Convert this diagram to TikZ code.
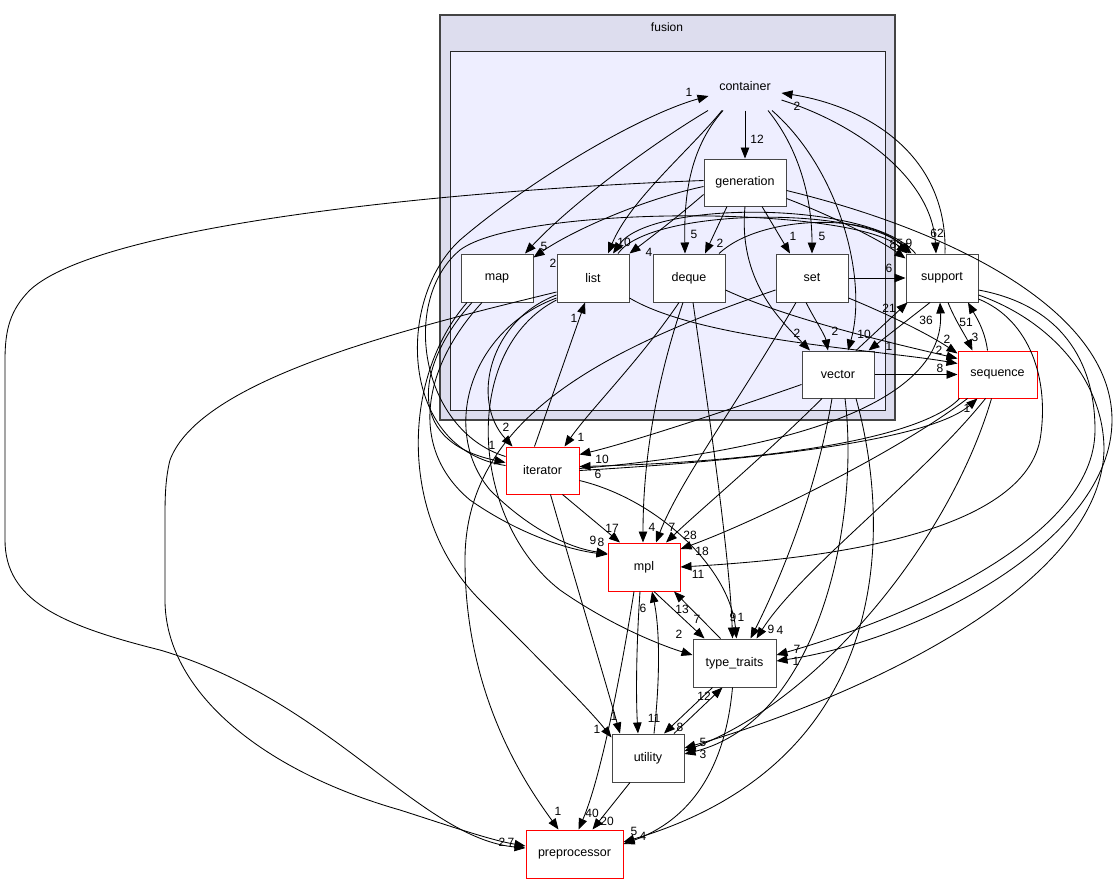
\documentclass[tikz,border=0pt]{standalone}
\usepackage{fontspec}
\setmainfont{Liberation Sans}
\usetikzlibrary{arrows.meta}
\definecolor{outerbg}{RGB}{221,221,238}
\definecolor{innerbg}{RGB}{238,238,255}
\definecolor{frame}{RGB}{68,68,68}
\definecolor{boxline}{RGB}{70,70,70}

\begin{document}
\begin{tikzpicture}
  [x=1pt,y=-1pt,
   dirN/.style={rectangle,draw=boxline,fill=white,line width=1pt,minimum width=72pt,
     minimum height=48pt,inner sep=0pt,font=\fontsize{12.5}{14}\selectfont},
   redN/.style={dirN,draw=red},
   dep/.style={-{Triangle[length=11pt,width=8.5pt]},line width=0.85pt},
   cnt/.style={inner sep=0pt,font=\fontsize{12}{14}\selectfont}]

  \useasboundingbox (0,0) rectangle (1119,884);

  % clusters
  \draw[fill=outerbg,draw=frame,line width=1.3pt] (440,15) rectangle (895,420);
  \node[cnt] (fusionlbl) at (667,27) {fusion};
  \draw[fill=innerbg,draw=black!85,line width=1pt] (450,51) rectangle (885,410);

  % directories
  \node[dirN,draw=none,fill=none] (container) at (745,86) {container};
  \node[dirN,minimum width=82pt,minimum height=47pt] (generation) at (745,182.5) {generation};
  \node[dirN] (map) at (497,278) {map};
  \node[dirN] (list) at (593,278) {list};
  \node[dirN] (deque) at (689,278) {deque};
  \node[dirN] (set) at (812,278) {set};
  \node[dirN] (support) at (942,278) {support};
  \node[dirN,minimum height=47pt] (vector) at (838,374.5) {vector};
  \node[redN,minimum width=79pt,minimum height=47pt] (sequence) at (997.5,374.5) {sequence};
  \node[redN,minimum width=73pt,minimum height=47pt] (iterator) at (542.5,470.5) {iterator};
  \node[redN] (mpl) at (644,567) {mpl};
  \node[dirN,minimum width=83pt] (type_traits) at (734.5,663) {type\_traits};
  \node[dirN] (utility) at (648,758) {utility};
  \node[redN,minimum width=97pt] (preprocessor) at (574.5,854) {preprocessor};

  % container
  \draw[dep] (container.south) -- (generation.north) node[cnt] at (757,139) {12};
  \draw[dep] ([xshift=-37pt]container.south) .. controls (650,145) and (570,205) .. ([xshift=28pt]map.north) node[cnt] at (544,246) {5};
  \draw[dep] ([xshift=-23pt]container.south) .. controls (690,150) and (630,200) .. ([xshift=15pt]list.north) node[cnt] at (624,242) {10};
  \draw[dep] ([xshift=-22pt]container.south) .. controls (688,150) and (684,200) .. ([xshift=-4pt]deque.north) node[cnt] at (694,234) {5};
  \draw[dep] ([xshift=23pt]container.south) .. controls (800,150) and (812,200) .. (set.north) node[cnt] at (822,236) {5};
  \draw[dep] ([xshift=27pt]container.south) .. controls (840,170) and (868,280) .. ([xshift=10pt]vector.north) node[cnt] at (864,334) {10};
  \draw[dep] ([yshift=-14pt]container.east) .. controls (860,125) and (932,180) .. ([xshift=-6pt]support.north) node[cnt] at (937,233) {62};
  \draw[dep] ([xshift=3pt]support.north) .. controls (948,150) and (860,105) .. ([yshift=-7pt]container.east) node[cnt] at (797,106) {2};
  \draw[dep] ([yshift=5pt]iterator.west) .. controls (400,450) and (395,300) .. (460,240) .. controls (530,180) and (640,115) .. ([yshift=-10pt]container.west) node[cnt] at (689,92) {1};

  % generation
  \draw[dep] ([yshift=-4pt]generation.west) .. controls (640,200) and (570,232) .. ([yshift=-4pt]map.north east) node[cnt] at (553,263) {2};
  \draw[dep] ([yshift=-12pt]generation.west) .. controls (680,215) and (650,238) .. (list.north east) node[cnt] at (649,252) {4};
  \draw[dep] ([xshift=-18pt]generation.south) -- ([xshift=16pt]deque.north) node[cnt] at (720,243) {2};
  \draw[dep] ([xshift=17pt]generation.south) -- ([xshift=-22pt]set.north) node[cnt] at (793,236) {1};
  \draw[dep] (generation.south) .. controls (738,280) and (780,320) .. ([xshift=-28pt]vector.north) node[cnt] at (797,333) {2};
  \draw[dep] ([yshift=-16pt]generation.east) .. controls (830,215) and (880,240) .. ([yshift=-5pt]support.north west) node[cnt] at (893,244) {8};
  \draw[dep] ([yshift=2pt]generation.west) .. controls (450,190) and (100,225) .. (30,290) .. controls (10,310) and (5,330) .. (5,360) -- (5,540) .. controls (5,600) and (60,625) .. (160,650) .. controls (330,700) and (420,838) .. ([yshift=6pt]preprocessor.west) node[cnt] at (502,842) {2};
  \draw[dep] ([yshift=-8pt]generation.east) .. controls (950,230) and (1112,310) .. (1112,420) .. controls (1112,540) and (920,640) .. ([yshift=2pt]type_traits.east) node[cnt] at (796,661) {1};

  % support
  \draw[dep] ([yshift=-12pt]support.east) .. controls (1060,305) and (1095,360) .. (1095,430) .. controls (1095,540) and (900,620) .. ([yshift=8pt]type_traits.east) node[cnt] at (797,649) {7};
  \draw[dep] ([yshift=-17pt]support.east) .. controls (1050,320) and (1104,380) .. (1104,450) .. controls (1100,590) and (850,700) .. ([yshift=10pt]utility.east) node[cnt] at (703,742) {5};
  \draw[dep] ([yshift=-21pt]support.east) .. controls (1030,320) and (1050,380) .. (1040,440) .. controls (1020,540) and (800,560) .. (mpl.east) node[cnt] at (698,574) {11};
  \draw[dep] ([xshift=6pt]support.south) .. controls (955,320) and (965,335) .. ([xshift=-25pt]sequence.north) node[cnt] at (975,337) {3};
  \draw[dep] ([xshift=-12pt]support.south) -- ([xshift=-6pt]vector.north east) node[cnt] at (889,346) {1};
  \draw[dep] ([xshift=10pt]support.north west) .. controls (870,200) and (650,200) .. ([xshift=20pt]list.north);

  % list
  \draw[dep] ([xshift=25pt]list.north) .. controls (650,208) and (860,205) .. ([xshift=6pt]support.north west) node[cnt] at (909,243) {9};
  \draw[dep] ([yshift=-20pt]list.east) .. controls (700,340) and (880,350) .. ([yshift=-13pt]sequence.north west) node[cnt] at (949,359) {5};
  \draw[dep] ([yshift=-17pt]list.west) .. controls (490,320) and (470,400) .. ([xshift=-30pt]iterator.north) node[cnt] at (506,427) {2};
  \draw[dep] ([yshift=-20pt]list.west) .. controls (470,330) and (440,430) .. (490,490) .. controls (530,530) and (570,548) .. ([yshift=-11pt]mpl.north west) node[cnt] at (601,542) {8};
  \draw[dep] ([yshift=-22pt]list.west) .. controls (460,350) and (470,520) .. (560,590) .. controls (610,625) and (660,645) .. ([yshift=8pt]type_traits.west) node[cnt] at (679,634) {2};
  \draw[dep] ([yshift=-14pt]list.west) .. controls (400,330) and (200,380) .. (170,460) .. controls (165,480) and (165,500) .. (165,520) -- (165,600) .. controls (165,690) and (260,770) .. (400,810) .. controls (450,826) and (490,840) .. ([yshift=8pt]preprocessor.west) node[cnt] at (511,842) {7};

  % deque
  \draw[dep] ([xshift=30pt]deque.north) .. controls (760,215) and (870,212) .. ([xshift=4pt]support.north west) node[cnt] at (900,243) {5};
  \draw[dep] ([yshift=-12pt]deque.east) .. controls (790,320) and (900,345) .. ([yshift=-8pt]sequence.north west) node[cnt] at (939,350) {2};
  \draw[dep] ([xshift=-10pt]deque.south) .. controls (640,360) and (590,410) .. ([xshift=22pt]iterator.north) node[cnt] at (581,437) {1};
  \draw[dep] ([xshift=-6pt]deque.south) .. controls (650,400) and (643,480) .. ([xshift=-1pt]mpl.north) node[cnt] at (652,527) {4};
  \draw[dep] ([xshift=4pt]deque.south) .. controls (710,420) and (730,560) .. ([xshift=-2pt]type_traits.north) node[cnt] at (733,617) {9};

  % set
  \draw[dep] (set.east) -- (support.west) node[cnt] at (889,268) {6};
  \draw[dep] ([xshift=-6pt]set.south) .. controls (815,320) and (825,335) .. ([xshift=-10pt]vector.north) node[cnt] at (835,331) {2};
  \draw[dep] ([yshift=-20pt]set.east) .. controls (890,315) and (930,335) .. ([yshift=-3pt]sequence.north west) node[cnt] at (947,339) {2};
  \draw[dep] ([xshift=-16pt]set.south) .. controls (740,400) and (680,480) .. ([xshift=12pt]mpl.north) node[cnt] at (672,527) {7};
  \draw[dep] ([yshift=-12pt]set.west) .. controls (600,350) and (465,420) .. (465,560) .. controls (465,700) and (530,790) .. ([xshift=-16pt]preprocessor.north) node[cnt] at (558,811) {1};

  % vector
  \draw[dep] ([xshift=18pt]vector.north) -- ([xshift=2pt]support.south west) node[cnt] at (889,308) {21};
  \draw[dep] (vector.east) -- (sequence.west) node[cnt] at (940,368) {8};
  \draw[dep] ([yshift=-10pt]vector.west) .. controls (700,420) and (620,445) .. ([yshift=16pt]iterator.east) node[cnt] at (602,459) {10};
  \draw[dep] ([xshift=-16pt]vector.south) .. controls (760,460) and (700,510) .. ([xshift=22pt]mpl.north) node[cnt] at (690,535) {28};
  \draw[dep] ([xshift=-6pt]vector.south) .. controls (815,500) and (775,590) .. ([xshift=16pt]type_traits.north) node[cnt] at (771,629) {9};
  \draw[dep] ([xshift=7pt]vector.south) .. controls (860,520) and (820,720) .. ([yshift=4pt]utility.east);
  \draw[dep] ([xshift=18pt]vector.south) .. controls (890,520) and (900,760) .. ([yshift=12pt]preprocessor.east) node[cnt] at (643,836) {4};

  % sequence
  \draw[dep] ([xshift=-10pt]sequence.north) .. controls (985,330) and (975,315) .. ([xshift=26pt]support.south) node[cnt] at (966,322) {51};
  \draw[dep] ([xshift=-38pt]sequence.south) .. controls (920,440) and (760,462) .. ([yshift=4pt]iterator.east) node[cnt] at (598,474) {6};
  \draw[dep] ([xshift=-30pt]sequence.south) .. controls (900,450) and (760,520) .. ([yshift=18pt]mpl.east) node[cnt] at (702,551) {18};
  \draw[dep] ([xshift=-12pt]sequence.south) .. controls (920,480) and (800,570) .. ([xshift=22pt]type_traits.north) node[cnt] at (780,630) {4};
  \draw[dep] ([xshift=-6pt]sequence.south) .. controls (950,540) and (820,700) .. ([yshift=7pt]utility.east) node[cnt] at (703,754) {3};

  % iterator
  \draw[dep] (iterator.east) .. controls (760,460) and (930,440) .. ([xshift=-20pt]sequence.south) node[cnt] at (967,408) {1};
  \draw[dep] ([yshift=2pt]iterator.east) .. controls (800,450) and (945,400) .. ([xshift=-2pt]support.south) node[cnt] at (926,320) {36};
  \draw[dep] ([yshift=14pt]iterator.west) .. controls (420,430) and (400,300) .. (460,250) .. controls (520,205) and (850,205) .. ([xshift=2pt]support.north west);
  \draw[dep] ([xshift=-8pt]iterator.north) -- ([xshift=-8pt]list.south) node[cnt] at (574,318) {1};
  \draw[dep] ([xshift=20pt]iterator.south) -- ([xshift=-24pt]mpl.north) node[cnt] at (612,528) {17};
  \draw[dep] ([yshift=-10pt]iterator.east) .. controls (660,500) and (730,570) .. ([xshift=2pt]type_traits.north) node[cnt] at (741,617) {1};
  \draw[dep] ([xshift=8pt]iterator.south) .. controls (575,580) and (605,680) .. ([xshift=-28pt]utility.north) node[cnt] at (614,716) {1};

  % map
  \draw[dep] ([xshift=-25pt]map.south) .. controls (420,360) and (400,440) .. ([yshift=8pt]iterator.west) node[cnt] at (492,445) {1};
  \draw[dep] ([xshift=-15pt]map.south) .. controls (420,370) and (410,450) .. (470,500) .. controls (520,535) and (570,550) .. ([yshift=-12pt]mpl.north west) node[cnt] at (593,540) {9};
  \draw[dep] ([xshift=-30pt]map.south) .. controls (400,380) and (400,520) .. (480,600) .. controls (540,660) and (590,710) .. ([yshift=-4pt]utility.north west) node[cnt] at (597,729) {1};

  % mpl, type_traits, utility
  \draw[dep] ([xshift=10pt]mpl.south) -- ([xshift=-30pt]type_traits.north) node[cnt] at (682,609) {13};
  \draw[dep] ([xshift=-14pt]type_traits.north) -- ([xshift=30pt]mpl.south) node[cnt] at (697,619) {7};
  \draw[dep] ([xshift=-4pt]mpl.south) .. controls (636,650) and (636,700) .. ([xshift=-10pt]utility.north) node[cnt] at (654,718) {11};
  \draw[dep] ([xshift=6pt]utility.north) .. controls (660,680) and (660,630) .. ([xshift=8pt]mpl.south) node[cnt] at (643,608) {6};
  \draw[dep] ([xshift=-10pt]mpl.south) .. controls (620,680) and (600,780) .. ([xshift=4pt]preprocessor.north) node[cnt] at (592,813) {40};
  \draw[dep] ([xshift=-22pt]type_traits.south) -- ([xshift=16pt]utility.north) node[cnt] at (680,727) {8};
  \draw[dep] ([xshift=26pt]utility.north) -- ([xshift=-12pt]type_traits.south) node[cnt] at (704,696) {12};
  \draw[dep] ([xshift=-2pt]type_traits.south) .. controls (725,770) and (690,820) .. ([yshift=10pt]preprocessor.east) node[cnt] at (634,831) {5};
  \draw[dep] ([xshift=-18pt]utility.south) -- ([xshift=18pt]preprocessor.north) node[cnt] at (607,821) {20};
\end{tikzpicture}
\end{document}
